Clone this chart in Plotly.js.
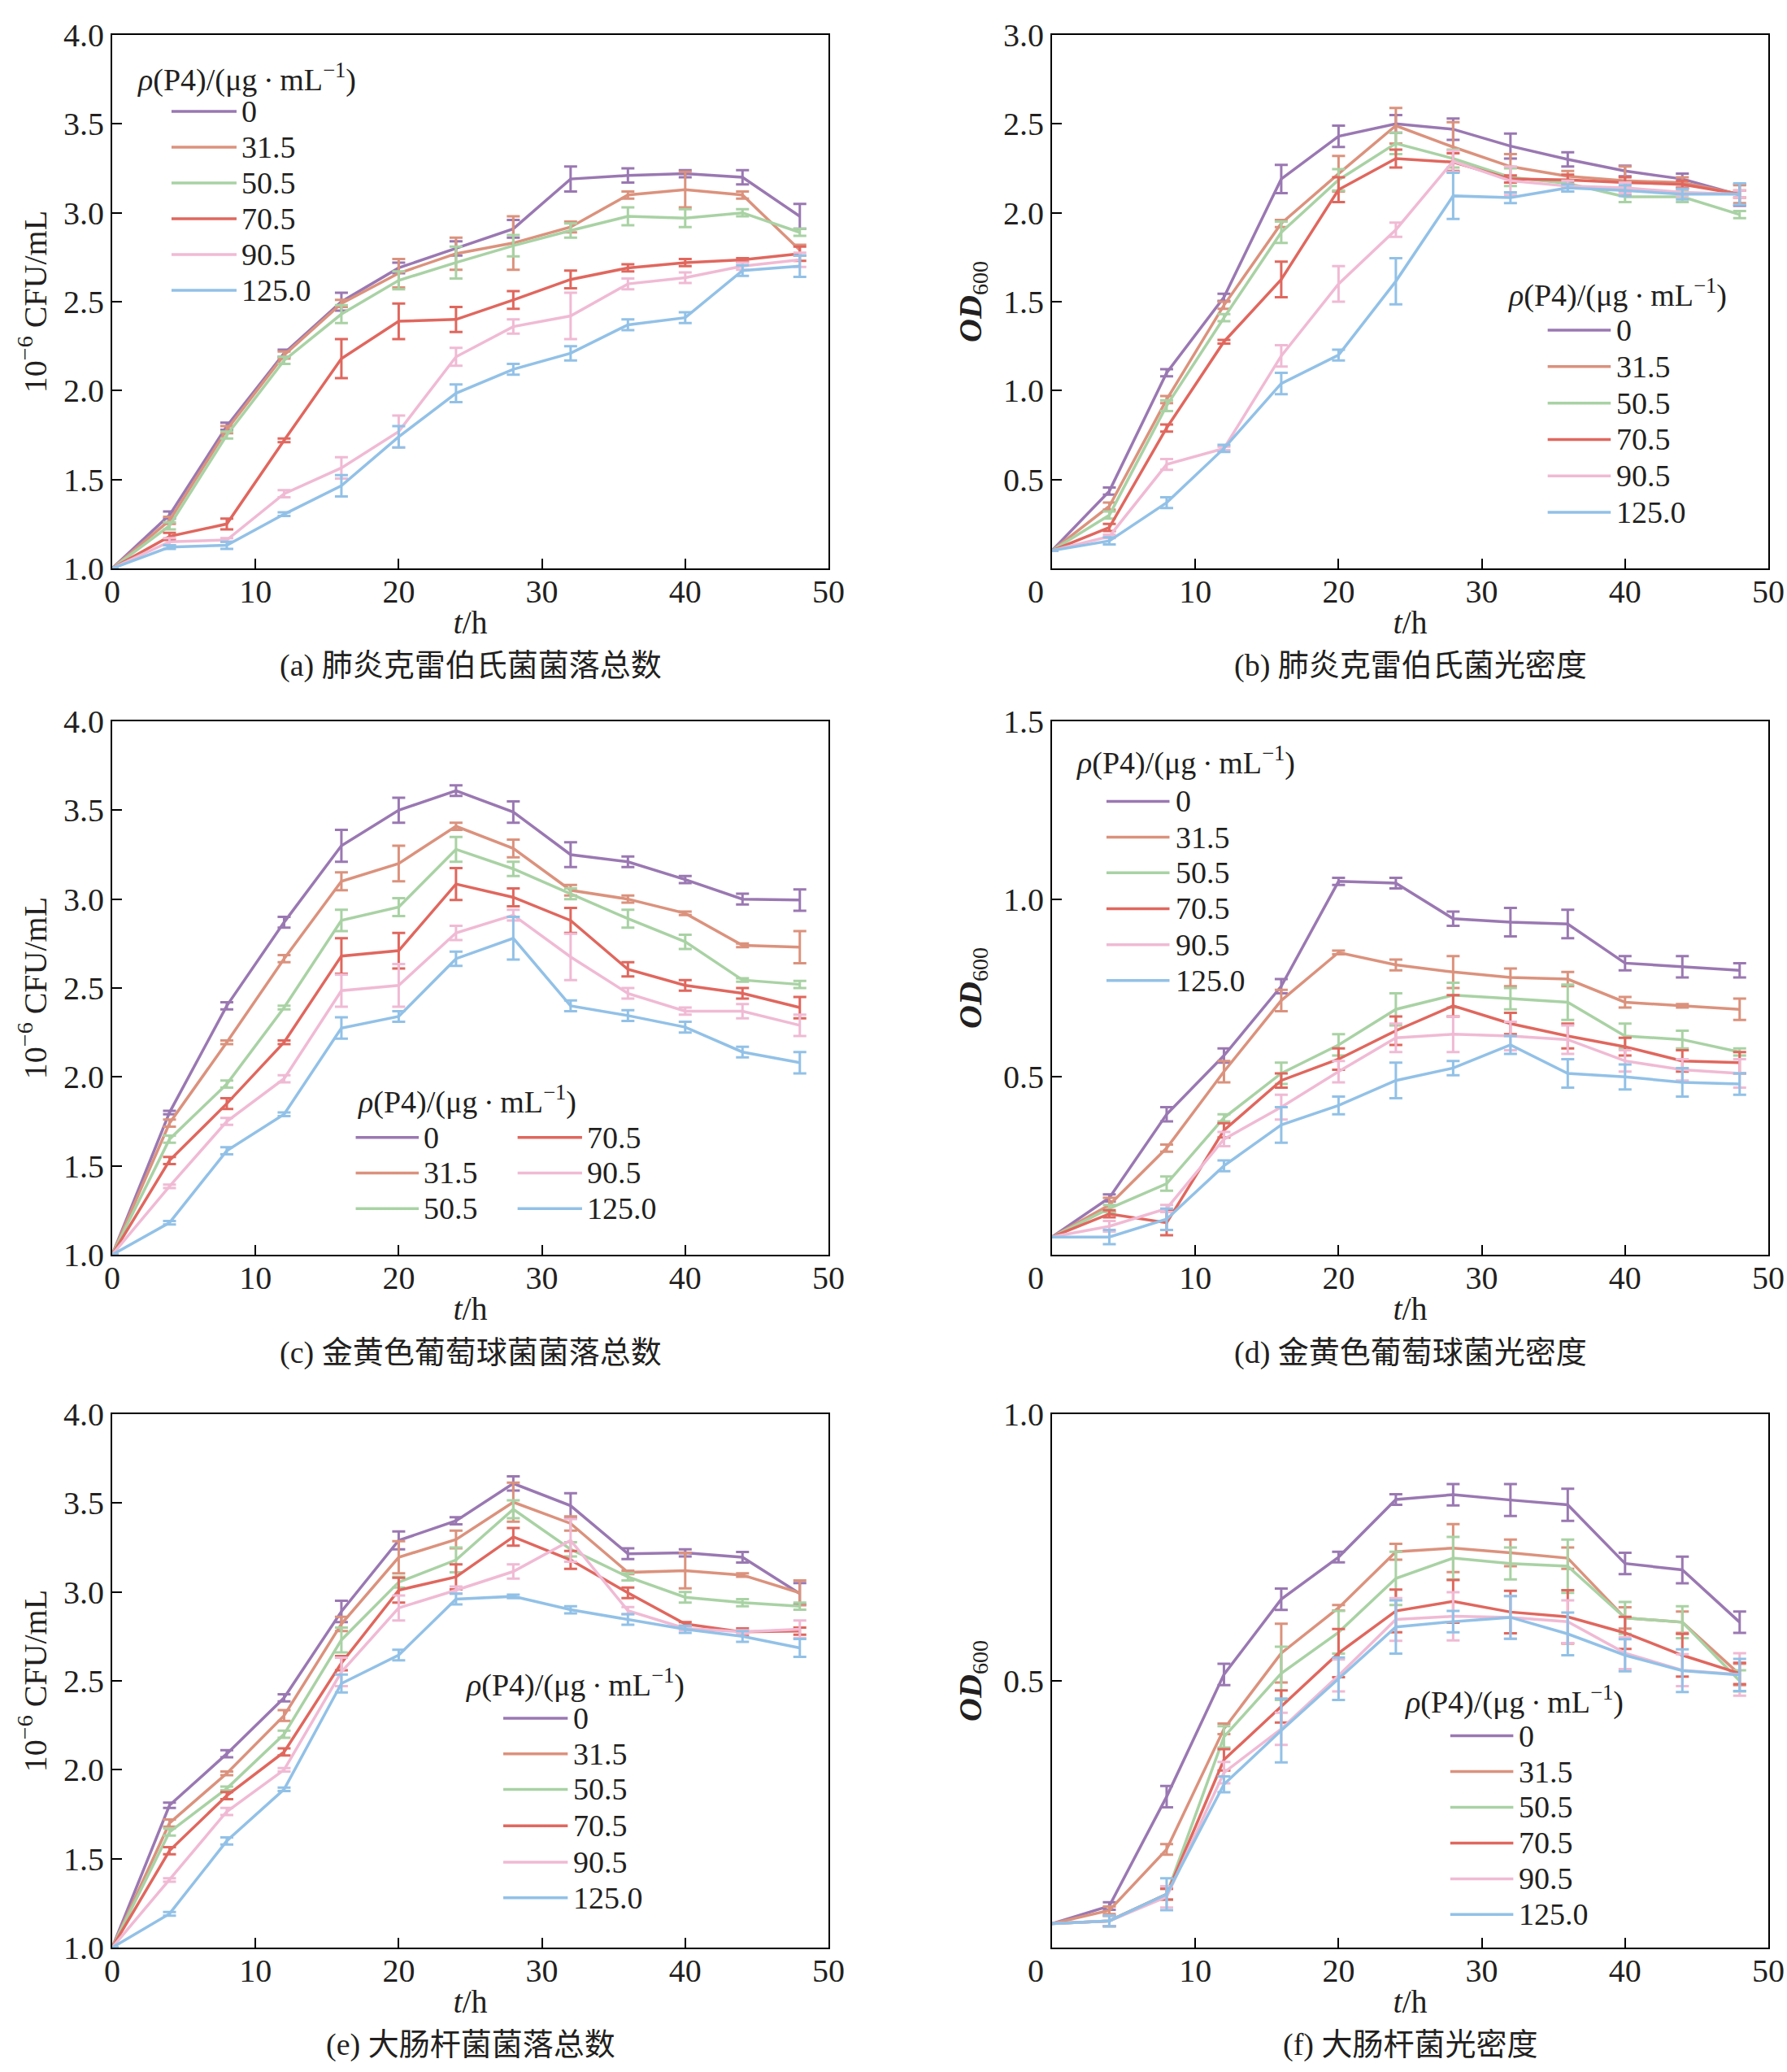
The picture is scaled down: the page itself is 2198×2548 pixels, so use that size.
<!DOCTYPE html>
<html>
<head>
<meta charset="utf-8">
<script src="https://cdn.plot.ly/plotly-3.0.1.min.js"></script>
<style>html,body{margin:0;padding:0;background:#fff;}</style>
</head>
<body>
<div id="chart" style="width:2198px;height:2548px;"></div>
<script>
// ---------- data ----------
const times = [0,4,8,12,16,20,24,28,32,36,40,44,48];
const concLabels = ['0','31.5','50.5','70.5','90.5','125.0'];
const xTickVals = [0,10,20,30,40,50];
const xTickText = ['0','10','20','30','40','50'];
const cfuTickVals = [1,1.5,2,2.5,3,3.5,4];
const cfuTickText = ['1.0','1.5','2.0','2.5','3.0','3.5','4.0'];
const odTickValsB = [0.5,1,1.5,2,2.5,3];
const odTickTextB = ['0.5','1.0','1.5','2.0','2.5','3.0'];
const odTickValsD = [0.5,1,1.5];
const odTickTextD = ['0.5','1.0','1.5'];
const odTickValsF = [0.5,1];
const odTickTextF = ['0.5','1.0'];
const captions = ['(a) 肺炎克雷伯氏菌菌落总数','(b) 肺炎克雷伯氏菌光密度','(c) 金黄色葡萄球菌菌落总数','(d) 金黄色葡萄球菌光密度','(e) 大肠杆菌菌落总数','(f) 大肠杆菌光密度'];

// (a) Klebsiella CFU
const a0   = [1.0,1.30,1.80,2.21,2.50,2.69,2.80,2.91,3.19,3.21,3.22,3.20,2.98];
const a0e  = [0,0.02,0.02,0.02,0.05,0.03,0.04,0.05,0.07,0.04,0.02,0.04,0.07];
const a31  = [1.0,1.27,1.78,2.20,2.49,2.66,2.77,2.83,2.92,3.10,3.13,3.10,2.79];
const a31e = [0,0.02,0.02,0.02,0.02,0.08,0.09,0.15,0.03,0.02,0.10,0.02,0.03];
const a50  = [1.0,1.24,1.75,2.17,2.43,2.62,2.72,2.815,2.90,2.98,2.97,3.00,2.89];
const a50e = [0,0.02,0.02,0.02,0.05,0.05,0.09,0.06,0.04,0.05,0.05,0.02,0.02];
const a70  = [1.0,1.18,1.25,1.72,2.18,2.39,2.40,2.51,2.625,2.69,2.72,2.735,2.77];
const a70e = [0,0.02,0.03,0.01,0.11,0.10,0.07,0.05,0.05,0.02,0.02,0.01,0.04];
const a90  = [1.0,1.15,1.16,1.42,1.565,1.77,2.19,2.36,2.42,2.60,2.635,2.70,2.735];
const a90e = [0,0.02,0.01,0.02,0.06,0.09,0.05,0.04,0.13,0.03,0.03,0.02,0.04];
const a125 = [1.0,1.12,1.13,1.305,1.465,1.74,1.985,2.12,2.21,2.37,2.41,2.675,2.70];
const a125e= [0,0.01,0.02,0.01,0.06,0.06,0.05,0.03,0.04,0.03,0.03,0.03,0.06];

// (b) Klebsiella OD600
const b0   = [0.1,0.435,1.10,1.525,2.19,2.43,2.50,2.47,2.375,2.30,2.235,2.19,2.10];
const b0e  = [0,0.02,0.02,0.02,0.08,0.06,0.05,0.06,0.07,0.04,0.03,0.03,0.06];
const b31  = [0.1,0.35,0.95,1.48,1.94,2.22,2.49,2.37,2.26,2.205,2.18,2.17,2.105];
const b31e = [0,0.02,0.02,0.02,0.02,0.10,0.10,0.14,0.07,0.03,0.08,0.03,0.05];
const b50  = [0.1,0.30,0.915,1.41,1.89,2.185,2.39,2.305,2.20,2.165,2.09,2.09,1.99];
const b50e = [0,0.02,0.03,0.02,0.06,0.06,0.06,0.05,0.05,0.02,0.03,0.03,0.02];
const b70  = [0.1,0.23,0.79,1.275,1.625,2.13,2.305,2.285,2.19,2.185,2.17,2.16,2.105];
const b70e = [0,0.02,0.02,0.01,0.10,0.07,0.05,0.05,0.02,0.03,0.03,0.02,0.02];
const b90  = [0.1,0.18,0.585,0.675,1.195,1.60,1.905,2.29,2.18,2.15,2.14,2.115,2.105];
const b90e = [0,0.01,0.03,0.01,0.06,0.10,0.04,0.06,0.08,0.03,0.03,0.02,0.02];
const b125 = [0.1,0.155,0.37,0.675,1.04,1.20,1.615,2.095,2.085,2.14,2.125,2.105,2.105];
const b125e= [0,0.02,0.03,0.02,0.06,0.03,0.13,0.13,0.03,0.02,0.03,0.03,0.06];

// (c) S. aureus CFU
const c0   = [1.0,1.80,2.40,2.87,3.30,3.50,3.61,3.49,3.25,3.21,3.11,3.00,2.995];
const c0e  = [0,0.01,0.02,0.03,0.09,0.07,0.03,0.06,0.07,0.03,0.02,0.03,0.06];
const c31  = [1.0,1.74,2.195,2.665,3.10,3.20,3.41,3.285,3.05,3.00,2.92,2.74,2.73];
const c31e = [0,0.02,0.01,0.02,0.05,0.10,0.02,0.05,0.03,0.02,0.01,0.01,0.09];
const c50  = [1.0,1.65,1.96,2.39,2.88,2.955,3.28,3.17,3.03,2.89,2.76,2.545,2.52];
const c50e = [0,0.02,0.02,0.01,0.06,0.05,0.07,0.04,0.03,0.05,0.04,0.01,0.02];
const c70  = [1.0,1.53,1.85,2.195,2.68,2.71,3.085,3.01,2.88,2.605,2.515,2.47,2.39];
const c70e = [0,0.02,0.03,0.01,0.10,0.10,0.09,0.05,0.07,0.04,0.03,0.03,0.06];
const c90  = [1.0,1.385,1.75,1.99,2.485,2.515,2.81,2.91,2.675,2.47,2.37,2.37,2.29];
const c90e = [0,0.01,0.02,0.02,0.09,0.12,0.04,0.03,0.13,0.03,0.02,0.04,0.06];
const c125 = [1.0,1.18,1.585,1.79,2.275,2.34,2.665,2.78,2.40,2.345,2.28,2.14,2.08];
const c125e= [0,0.01,0.02,0.01,0.06,0.03,0.04,0.12,0.03,0.03,0.03,0.03,0.06];

// (d) S. aureus OD600
const d0   = [0.05,0.16,0.395,0.56,0.755,1.05,1.045,0.945,0.935,0.93,0.82,0.81,0.80];
const d0e  = [0,0.01,0.02,0.02,0.02,0.01,0.015,0.02,0.04,0.04,0.02,0.03,0.02];
const d31  = [0.05,0.14,0.30,0.515,0.715,0.85,0.815,0.795,0.78,0.775,0.71,0.70,0.69];
const d31e = [0,0.02,0.01,0.03,0.03,0.005,0.015,0.045,0.025,0.02,0.015,0.005,0.03];
const d50  = [0.05,0.13,0.20,0.385,0.51,0.59,0.69,0.73,0.72,0.71,0.615,0.605,0.57];
const d50e = [0,0.01,0.02,0.01,0.03,0.03,0.045,0.035,0.03,0.05,0.035,0.025,0.01];
const d70  = [0.05,0.115,0.09,0.35,0.49,0.55,0.63,0.70,0.65,0.615,0.585,0.545,0.54];
const d70e = [0,0.01,0.035,0.02,0.02,0.03,0.04,0.03,0.03,0.035,0.025,0.03,0.03];
const d90  = [0.05,0.08,0.13,0.325,0.415,0.515,0.61,0.62,0.615,0.605,0.545,0.52,0.51];
const d90e = [0,0.015,0.01,0.02,0.035,0.03,0.04,0.05,0.04,0.04,0.03,0.03,0.04];
const d125 = [0.05,0.05,0.10,0.25,0.365,0.42,0.49,0.525,0.59,0.51,0.50,0.485,0.48];
const d125e= [0,0.02,0.03,0.015,0.05,0.025,0.05,0.02,0.025,0.04,0.035,0.04,0.03];

// (e) E. coli CFU
const e0   = [1.0,1.80,2.09,2.405,2.89,3.29,3.40,3.61,3.485,3.215,3.22,3.195,2.99];
const e0e  = [0,0.015,0.02,0.02,0.06,0.05,0.02,0.04,0.07,0.03,0.02,0.03,0.06];
const e31  = [1.0,1.70,1.98,2.305,2.82,3.195,3.295,3.505,3.385,3.11,3.12,3.095,2.995];
const e31e = [0,0.02,0.01,0.03,0.04,0.09,0.05,0.11,0.04,0.01,0.10,0.01,0.07];
const e50  = [1.0,1.65,1.895,2.20,2.73,3.055,3.18,3.465,3.24,3.085,2.97,2.94,2.92];
const e50e = [0,0.02,0.01,0.02,0.07,0.03,0.07,0.05,0.04,0.02,0.03,0.02,0.02];
const e70  = [1.0,1.545,1.855,2.10,2.60,3.01,3.085,3.31,3.18,2.995,2.82,2.775,2.78];
const e70e = [0,0.02,0.02,0.02,0.04,0.07,0.07,0.05,0.05,0.03,0.01,0.02,0.02];
const e90  = [1.0,1.38,1.765,2.00,2.55,2.91,3.01,3.115,3.29,2.895,2.795,2.775,2.79];
const e90e = [0,0.01,0.02,0.01,0.08,0.07,0.02,0.04,0.12,0.02,0.01,0.01,0.05];
const e125 = [1.0,1.19,1.60,1.89,2.485,2.645,2.96,2.975,2.90,2.845,2.79,2.75,2.685];
const e125e= [0,0.01,0.02,0.01,0.05,0.03,0.03,0.01,0.02,0.03,0.02,0.03,0.05];

// (f) E. coli OD600
const f0   = [0.045,0.078,0.283,0.512,0.653,0.732,0.84,0.849,0.839,0.83,0.72,0.708,0.61];
const f0e  = [0,0.007,0.02,0.02,0.02,0.01,0.01,0.02,0.03,0.03,0.02,0.025,0.02];
const f31  = [0.045,0.07,0.184,0.41,0.552,0.637,0.742,0.749,0.74,0.73,0.618,0.61,0.512];
const f31e = [0,0.007,0.01,0.01,0.055,0.005,0.015,0.045,0.025,0.02,0.02,0.02,0.02];
const f50  = [0.045,0.05,0.10,0.395,0.514,0.591,0.692,0.73,0.72,0.715,0.618,0.61,0.50];
const f50e = [0,0.01,0.01,0.02,0.05,0.04,0.05,0.04,0.03,0.05,0.03,0.03,0.02];
const f70  = [0.045,0.05,0.10,0.352,0.452,0.552,0.631,0.649,0.629,0.62,0.59,0.548,0.514];
const f70e = [0,0.01,0.01,0.02,0.03,0.045,0.04,0.04,0.04,0.05,0.03,0.04,0.02];
const f90  = [0.045,0.05,0.095,0.328,0.41,0.51,0.615,0.621,0.619,0.611,0.552,0.52,0.512];
const f90e = [0,0.01,0.02,0.02,0.03,0.03,0.04,0.045,0.04,0.04,0.03,0.03,0.04];
const f125 = [0.045,0.05,0.10,0.306,0.407,0.504,0.601,0.611,0.619,0.588,0.548,0.519,0.511];
const f125e= [0,0.01,0.03,0.015,0.06,0.04,0.05,0.02,0.04,0.04,0.03,0.04,0.03];

// ---------- styling ----------
const colors = ['#9a78b2','#db927d','#a9d2a4','#e0675e','#f0bad4','#92c1e7'];
const SERIF = 'Liberation Serif, Times New Roman, serif';
const CJK = 'Liberation Serif, Noto Sans CJK SC, serif';
const INK = '#231f20';

const W = 2198, H = 2548;
const colX = [[138/W, 1019/W],[1294/W, 2175/W]];
const rowY = [[1-699/H, 1-43/H],[1-1543/H, 1-887/H],[1-2395/H, 1-1739/H]];

const panels = [
  {ys:[a0,a31,a50,a70,a90,a125], es:[a0e,a31e,a50e,a70e,a90e,a125e], col:0,row:0, yr:[1,4], tv:cfuTickVals, tt:cfuTickText, cfu:true,
   leg:{tx:1.65, ty:3.76, rows:[3.570,3.369,3.168,2.966,2.765,2.564], cols:[[4.14,8.68,8.9]], ncol:1}},
  {ys:[b0,b31,b50,b70,b90,b125], es:[b0e,b31e,b50e,b70e,b90e,b125e], col:1,row:0, yr:[0,3], tv:odTickValsB, tt:odTickTextB, cfu:false,
   leg:{tx:31.7, ty:1.55, rows:[1.34,1.135,0.93,0.725,0.52,0.315], cols:[[34.6,39.0,39.25]], ncol:1}},
  {ys:[c0,c31,c50,c70,c90,c125], es:[c0e,c31e,c50e,c70e,c90e,c125e], col:0,row:1, yr:[1,4], tv:cfuTickVals, tt:cfuTickText, cfu:true,
   leg:{tx:17.0, ty:1.87, rows:[1.66,1.46,1.26], cols:[[17.0,21.4,21.65],[28.3,32.8,33.05]], ncol:2}},
  {ys:[d0,d31,d50,d70,d90,d125], es:[d0e,d31e,d50e,d70e,d90e,d125e], col:1,row:1, yr:[0,1.5], tv:odTickValsD, tt:odTickTextD, cfu:false,
   leg:{tx:1.6, ty:1.39, rows:[1.275,1.174,1.074,0.973,0.872,0.771], cols:[[3.8,8.2,8.5]], ncol:1}},
  {ys:[e0,e31,e50,e70,e90,e125], es:[e0e,e31e,e50e,e70e,e90e,e125e], col:0,row:2, yr:[1,4], tv:cfuTickVals, tt:cfuTickText, cfu:true,
   leg:{tx:24.6, ty:2.49, rows:[2.29,2.09,1.89,1.685,1.48,1.28], cols:[[27.3,31.8,32.05]], ncol:1}},
  {ys:[f0,f31,f50,f70,f90,f125], es:[f0e,f31e,f50e,f70e,f90e,f125e], col:1,row:2, yr:[0,1], tv:odTickValsF, tt:odTickTextF, cfu:false,
   leg:{tx:24.5, ty:0.464, rows:[0.397,0.33,0.263,0.196,0.129,0.062], cols:[[27.8,32.2,32.45]], ncol:1}}
];

const data = [];
const layout = {
  width: W, height: H,
  margin: {l:0, r:0, t:0, b:0},
  paper_bgcolor: '#fff', plot_bgcolor: '#fff',
  showlegend: false,
  font: {family: SERIF, size: 40, color: INK},
  shapes: [], annotations: []
};

panels.forEach((p, i) => {
  const n = i + 1;
  const xk = n === 1 ? 'x' : 'x' + n;
  const yk = n === 1 ? 'y' : 'y' + n;
  p.ys.forEach((vals, s) => {
    data.push({
      type: 'scatter', mode: 'lines',
      x: times, y: vals, name: concLabels[s],
      xaxis: xk, yaxis: yk,
      line: {color: colors[s], width: 3.5},
      error_y: {type: 'data', array: p.es[s], visible: true, color: colors[s], thickness: 3, width: 8},
      showlegend: false
    });
  });
  const xTT = p.cfu ? xTickText : xTickText.map((t, j) => j === 0 ? '0\u00a0\u00a0\u00a0\u00a0' : t);
  layout['xaxis' + (n === 1 ? '' : n)] = {
    domain: colX[p.col], anchor: yk, range: [0, 50],
    tickmode: 'array', tickvals: xTickVals, ticktext: xTT,
    ticks: 'inside', ticklen: 12, tickwidth: 2, tickcolor: '#000',
    ticklabelstandoff: -8,
    showline: true, mirror: true, linewidth: 2, linecolor: '#000',
    showgrid: false, zeroline: false,
    tickfont: {family: SERIF, size: 40, color: INK},
    title: {text: '<i>t</i>/h', font: {family: SERIF, size: 40, color: INK}, standoff: 2}
  };
  layout['yaxis' + (n === 1 ? '' : n)] = {
    domain: rowY[p.row], anchor: xk, range: p.yr,
    tickmode: 'array', tickvals: p.tv, ticktext: p.tt,
    ticks: 'inside', ticklen: 12, tickwidth: 2, tickcolor: '#000',
    showline: true, mirror: true, linewidth: 2, linecolor: '#000',
    showgrid: false, zeroline: false,
    tickfont: {family: SERIF, size: 40, color: INK},
    title: {text: p.cfu ? '10<sup>\u22126</sup> CFU/mL' : '<b><i>OD</i></b><sub>600</sub>',
            font: {family: SERIF, size: 40, color: INK}, standoff: p.cfu ? 8 : 14}
  };
  // legend drawn inside the panel
  const L = p.leg;
  layout.annotations.push({
    xref: xk, yref: yk, x: L.tx, y: L.ty, xanchor: 'left', yanchor: 'middle', showarrow: false,
    text: '<i>\u03c1</i>(P4)/(\u03bcg\u2009\u00b7\u2009mL<sup>\u22121</sup>)',
    font: {family: SERIF, size: 38, color: INK}
  });
  concLabels.forEach((lab, s) => {
    const c = L.ncol === 1 ? 0 : Math.floor(s / 3);
    const r = L.ncol === 1 ? s : s % 3;
    const cx = L.cols[c];
    layout.shapes.push({type: 'line', xref: xk, yref: yk, x0: cx[0], x1: cx[1], y0: L.rows[r], y1: L.rows[r],
      line: {color: colors[s], width: 3.5}});
    layout.annotations.push({xref: xk, yref: yk, x: cx[2], y: L.rows[r], xanchor: 'left', yanchor: 'middle',
      showarrow: false, text: lab, font: {family: SERIF, size: 38, color: INK}});
  });
  // caption
  const capY = [1-819/H, 1-1663/H, 1-2514/H][p.row];
  layout.annotations.push({xref: 'paper', yref: 'paper', x: (colX[p.col][0] + colX[p.col][1]) / 2, y: capY,
    xanchor: 'center', yanchor: 'middle', showarrow: false, text: captions[i],
    font: {family: CJK, size: 38, color: INK}});
});

Plotly.newPlot('chart', data, layout, {staticPlot: true, displayModeBar: false});
</script>
</body>
</html>
